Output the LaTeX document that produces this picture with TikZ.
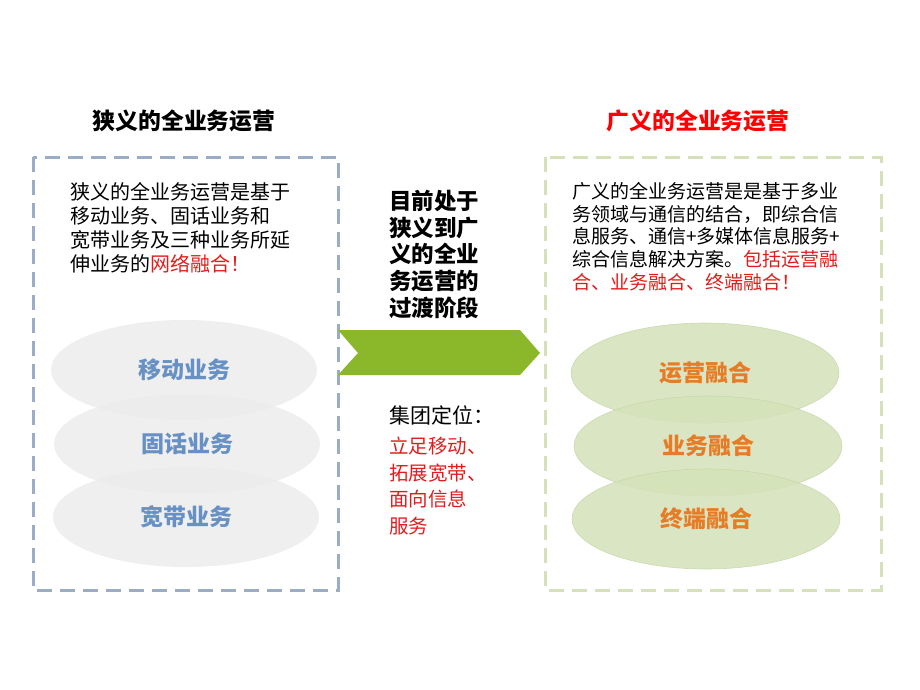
\documentclass[tikz,border=0pt]{standalone}
\usepackage{fontspec}
\setmainfont{Noto Sans CJK SC}
\usetikzlibrary{shapes.geometric}
\definecolor{boxblue}{RGB}{155,172,198}
\definecolor{boxgreen}{RGB}{212,225,185}
\definecolor{txtred}{RGB}{226,28,28}
\definecolor{titlered}{RGB}{255,0,0}
\definecolor{lblblue}{RGB}{79,129,189}
\definecolor{lblorange}{RGB}{232,106,10}
\definecolor{arrowgreen}{RGB}{139,184,43}
\definecolor{ellgray}{RGB}{236,236,236}
\definecolor{ellgreen}{RGB}{212,226,185}
\definecolor{ellgreenline}{RGB}{196,212,166}
\tikzset{
  framebox/.style={line width=3pt, dash pattern=on 15pt off 8pt},
  titletext/.style={inner sep=0pt, font=\bfseries\fontsize{22.8}{26}\selectfont},
  bodytext/.style={inner sep=0pt, anchor=north west, align=left},
  grayell/.style={ellipse, minimum width=266pt, minimum height=100pt, inner sep=0pt,
    fill=ellgray, fill opacity=0.85, draw=none, text=lblblue,
    font=\bfseries\fontsize{23}{26}\selectfont},
  greenell/.style={ellipse, minimum width=268pt, minimum height=100pt, inner sep=0pt,
    fill=ellgreen, fill opacity=0.85, draw=ellgreenline, draw opacity=0.8, line width=0.6pt,
    text=lblorange, font=\bfseries\fontsize{23}{26}\selectfont},
}
\begin{document}
\begin{tikzpicture}[x=1pt,y=-1pt]
\useasboundingbox (0,0) rectangle (920,690);
% frames
\draw[framebox, draw=boxblue] (33,157) rectangle (338,590);
\draw[framebox, draw=boxgreen] (545,157) rectangle (881,590);
% titles
\node[titletext] (tl) at (184,121) {狭义的全业务运营};
\node[titletext, text=titlered] (tr) at (698,121) {广义的全业务运营};
% left text
\node[bodytext, font=\fontsize{20}{24.2}\selectfont] (lt) at (70,182)
 {狭义的全业务运营是基于\\移动业务、固话业务和\\宽带业务及三种业务所延\\伸业务的\textcolor{txtred}{网络融合！}};
% right text
\node[bodytext, font=\fontsize{19}{22.8}\selectfont] (rt) at (572,182)
 {广义的全业务运营是是基于多业\\务领域与通信的结合，即综合信\\息服务、通信+多媒体信息服务+\\综合信息解决方案。\textcolor{txtred}{包括运营融}\\\textcolor{txtred}{合、业务融合、终端融合！}};
% middle
\node[bodytext, font=\bfseries\fontsize{22.5}{26.7}\selectfont] (mid) at (389,190)
 {目前处于\\狭义到广\\义的全业\\务运营的\\过渡阶段};
\fill[arrowgreen] (338,330) -- (520,330) -- (540,353) -- (520,375) -- (338,375) -- (358,353) -- cycle;
\node[bodytext, font=\fontsize{21}{26}\selectfont] (pos) at (389,406) {集团定位：};
\node[bodytext, text=txtred, font=\fontsize{19.5}{26.5}\selectfont] (posr) at (389,437)
 {立足移动、\\拓展宽带、\\面向信息\\服务};
% left ellipses
\node[grayell] (e1) at (184,370) {移动业务};
\node[grayell] (e2) at (187,444) {固话业务};
\node[grayell] (e3) at (186,517) {宽带业务};
% right ellipses
\node[greenell] (g1) at (705,373) {运营融合};
\node[greenell] (g2) at (708,446) {业务融合};
\node[greenell] (g3) at (706,519) {终端融合};
\end{tikzpicture}
\end{document}
